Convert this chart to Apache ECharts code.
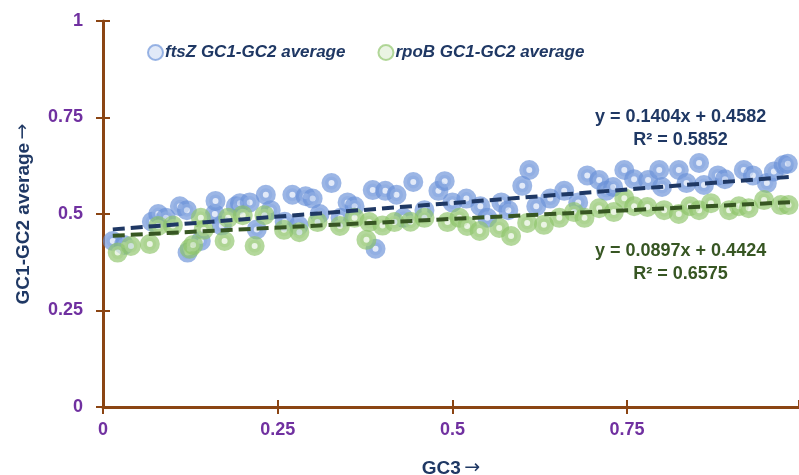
<!DOCTYPE html>
<html>
<head>
<meta charset="utf-8">
<script src="https://cdn.jsdelivr.net/npm/echarts@6/dist/echarts.min.js"></script>
<style>
html,body{margin:0;padding:0;background:#fff;}
#chart{width:799px;height:475px;}
</style>
</head>
<body>
<div id="chart"></div>
<script>
// ---- Data ----
const ftszX = [0.014,0.03,0.07,0.079,0.09,0.11,0.12,0.121,0.14,0.16,0.161,0.17,0.19,0.196,0.21,0.22,0.233,0.24,0.26,0.271,0.28,0.29,0.30,0.31,0.327,0.34,0.35,0.36,0.386,0.39,0.404,0.42,0.43,0.444,0.46,0.48,0.489,0.50,0.52,0.54,0.55,0.57,0.58,0.60,0.61,0.62,0.64,0.66,0.68,0.693,0.71,0.72,0.73,0.746,0.76,0.78,0.796,0.80,0.824,0.835,0.853,0.86,0.88,0.89,0.917,0.93,0.95,0.96,0.974,0.98];
const ftszY = [0.43,0.42,0.48,0.50,0.49,0.52,0.51,0.40,0.43,0.50,0.534,0.47,0.52,0.528,0.53,0.46,0.55,0.51,0.48,0.55,0.47,0.546,0.54,0.50,0.58,0.49,0.53,0.52,0.562,0.41,0.56,0.55,0.49,0.583,0.51,0.56,0.585,0.53,0.54,0.52,0.49,0.53,0.51,0.573,0.614,0.52,0.54,0.56,0.53,0.60,0.588,0.56,0.57,0.614,0.59,0.588,0.614,0.57,0.614,0.58,0.632,0.575,0.60,0.59,0.614,0.60,0.58,0.61,0.627,0.63];
const rpobX = [0.021,0.04,0.067,0.079,0.10,0.124,0.129,0.14,0.144,0.174,0.179,0.20,0.217,0.231,0.259,0.281,0.307,0.339,0.36,0.377,0.381,0.40,0.417,0.44,0.46,0.493,0.51,0.521,0.539,0.567,0.584,0.607,0.631,0.653,0.674,0.689,0.71,0.731,0.746,0.76,0.779,0.803,0.824,0.84,0.853,0.87,0.896,0.91,0.924,0.946,0.97,0.981];
const rpobY = [0.40,0.417,0.422,0.469,0.47,0.41,0.42,0.49,0.459,0.43,0.49,0.497,0.417,0.497,0.459,0.453,0.479,0.469,0.49,0.433,0.479,0.47,0.479,0.48,0.49,0.479,0.49,0.469,0.456,0.464,0.443,0.477,0.472,0.49,0.505,0.49,0.515,0.505,0.541,0.52,0.518,0.51,0.50,0.52,0.51,0.528,0.51,0.52,0.515,0.536,0.523,0.523];
const seriesNames = ['ftsZ GC1-GC2 average','rpoB GC1-GC2 average'];
const trendSlope = [0.1404, 0.0897];
const trendIntercept = [0.4582, 0.4424];
const trendR2 = [0.5852, 0.6575];
const trendRange = [0.014, 0.985];
const tickStep = 0.25;
const yRange = [0, 1];
const xRange = [0, 0.996];   // plot is cropped just before x = 1

const NAVY = '#1f3864', DKGREEN = '#375623', PURPLE = '#7030a0', BROWN = '#8b4513';
const FONT = '"Liberation Sans",Arial,sans-serif';
const ARROWFONT = '"DejaVu Sans",sans-serif';

function pairs(xs, ys){ return xs.map((x,i)=>[x, ys[i]]); }
function trendLine(k){ return trendRange.map(x => [x, trendIntercept[k] + trendSlope[k]*x]); }
function tickFmt(v){
  const r = v / tickStep;
  return Math.abs(r - Math.round(r)) < 1e-6 ? String(+v.toFixed(2)) : '';
}

const labelStyle = {color: PURPLE, fontWeight: 'bold', fontSize: 18, fontFamily: FONT};
function mkAxis(range, extra){
  return Object.assign({
    type: 'value', min: range[0], max: range[1], interval: tickStep,
    axisLine: {show: true, lineStyle: {color: BROWN, width: 3}},
    axisTick: {show: true, length: 7, lineStyle: {color: BROWN, width: 2}},
    splitLine: {show: false},
  }, extra);
}
const nameRich = {
  t: {color: NAVY, fontWeight: 'bold', fontSize: 19, fontFamily: FONT},
  a: {color: NAVY, fontWeight: 'normal', fontSize: 19, fontFamily: ARROWFONT}
};

const chart = echarts.init(document.getElementById('chart'), null, {renderer: 'canvas'});
chart.setOption({
  animation: false,
  backgroundColor: '#fff',
  grid: {left: 103, right: 0, top: 21, bottom: 68, containLabel: false, outerBoundsMode: 'none'},
  legend: {
    data: seriesNames, left: 142, top: 39, itemGap: 32, itemWidth: 15, itemHeight: 15,
    icon: 'circle',
    textStyle: {color: NAVY, fontWeight: 'bold', fontStyle: 'italic', fontSize: 17, fontFamily: FONT, padding: [0,0,0,-3]}
  },
  xAxis: [
    mkAxis(xRange, {
      position: 'bottom',
      axisLabel: Object.assign({margin: 14, formatter: tickFmt, showMaxLabel: false}, labelStyle),
      name: '{t|GC3} {a|→}', nameLocation: 'middle', nameGap: 52,
      nameTextStyle: {rich: nameRich}
    }),
    mkAxis(xRange, {position: 'bottom', axisLine: {show: false}, axisLabel: {show: false},
      axisTick: {show: true, inside: true, length: 7, lineStyle: {color: BROWN, width: 2}}})
  ],
  yAxis: [
    mkAxis(yRange, {
      position: 'left',
      axisLabel: Object.assign({margin: 20, formatter: tickFmt}, labelStyle),
      name: '{t|GC1-GC2 average} {a|→}', nameLocation: 'middle', nameGap: 70, nameRotate: 90,
      nameTextStyle: {rich: nameRich}
    }),
    mkAxis(yRange, {position: 'left', axisLine: {show: false}, axisLabel: {show: false},
      axisTick: {show: true, inside: true, length: 7, lineStyle: {color: BROWN, width: 2}}})
  ],
  series: [
    {
      name: seriesNames[0], type: 'scatter', data: pairs(ftszX, ftszY),
      symbolSize: 13,
      itemStyle: {color: 'rgba(214,224,245,0.9)', borderColor: 'rgba(104,143,216,0.82)', borderWidth: 7}
    },
    {
      name: seriesNames[1], type: 'scatter', data: pairs(rpobX, rpobY),
      symbolSize: 13,
      itemStyle: {color: 'rgba(226,240,216,0.9)', borderColor: 'rgba(140,195,104,0.82)', borderWidth: 7}
    },
    {
      type: 'line', data: trendLine(0), symbol: 'none', silent: true, z: 5,
      lineStyle: {color: NAVY, width: 4, type: [12, 6]}
    },
    {
      type: 'line', data: trendLine(1), symbol: 'none', silent: true, z: 5,
      lineStyle: {color: DKGREEN, width: 4, type: [12, 6]}
    }
  ],
  graphic: [
    {type: 'text', left: 595, top: 106, z: 10, style: {
      text: 'y = ' + trendSlope[0] + 'x + ' + trendIntercept[0] + '\nR² = ' + trendR2[0],
      fill: NAVY, font: 'bold 18px ' + FONT, textAlign: 'center', lineHeight: 23, x: 86}},
    {type: 'text', left: 595, top: 240, z: 10, style: {
      text: 'y = ' + trendSlope[1] + 'x + ' + trendIntercept[1] + '\nR² = ' + trendR2[1],
      fill: DKGREEN, font: 'bold 18px ' + FONT, textAlign: 'center', lineHeight: 23, x: 86}}
  ]
});
</script>
</body>
</html>
